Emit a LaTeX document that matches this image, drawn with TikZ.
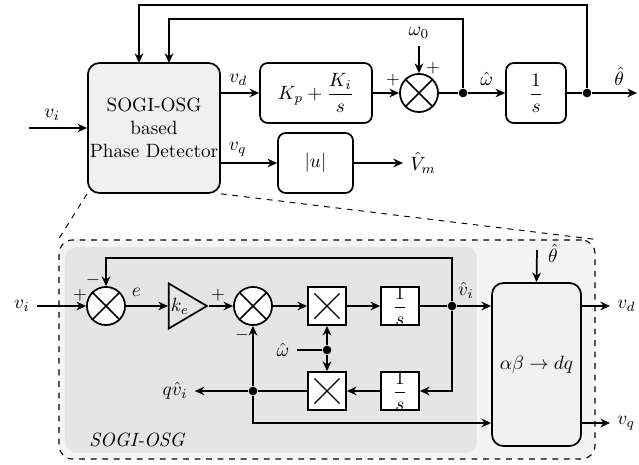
\documentclass[tikz,border=0pt]{standalone}
\usepackage{amsmath,amssymb}
\usetikzlibrary{arrows.meta,positioning,calc,shapes.geometric}

\begin{document}
\begin{tikzpicture}[x=0.52pt,y=-0.52pt,>={Stealth[length=5pt,width=4.5pt]},line width=0.9pt,
  blk/.style={draw,rounded corners=4pt,fill=gray!12,inner sep=1pt},
  sq/.style={draw,fill=white,minimum size=19.8pt,inner sep=0pt},
  sm/.style={circle,draw,fill=white,minimum size=19.8pt,inner sep=0pt,
    path picture={\draw (path picture bounding box.north west)--(path picture bounding box.south east)
      (path picture bounding box.north east)--(path picture bounding box.south west);}},
  mul/.style={sq,path picture={\draw[line width=0.6pt]
      ($(path picture bounding box.north west)!0.17!(path picture bounding box.south east)$)--($(path picture bounding box.north west)!0.83!(path picture bounding box.south east)$)
      ($(path picture bounding box.north east)!0.17!(path picture bounding box.south west)$)--($(path picture bounding box.north east)!0.83!(path picture bounding box.south west)$);}},
  dot/.style={circle,fill,inner sep=0pt,minimum size=4.5pt},
  sgn/.style={font=\small,inner sep=0pt}]
\useasboundingbox (0,0) rectangle (639,464);
% upper loop
\node[blk,rounded corners=6pt,minimum width=68.6pt,minimum height=67.6pt,align=center] (pd) at (154,128) {SOGI-OSG\\based\\Phase Detector};
\node[blk,fill=none,minimum width=58.2pt,minimum height=31.2pt] (kp) at (316,93) {$K_p+\dfrac{K_i}{s}$};
\node[blk,fill=none,minimum width=39pt,minimum height=31.2pt] (abs) at (315.5,163) {$|u|$};
\node[sm] (sum) at (419,93) {};
\node[blk,fill=none,minimum width=31.2pt,minimum height=31.2pt] (int) at (536,93) {$\dfrac{1}{s}$};
\node[dot] (d1) at (463,93) {};
\node[dot] (d2) at (587,93) {};
\node (w0) at (419,33) {$\omega_0$};
\node[anchor=west] (vm) at (403,163) {$\hat{V}_m$};
\coordinate (vin) at (29,128);
\coordinate (th) at (637,93);
\draw[->] (vin) -- (pd.west |- vin) node[pos=0.4,above] {$v_i$};
\draw[->] (pd.east |- kp) -- (kp) node[pos=0.45,above] {$v_d$};
\draw[->] (pd.east |- abs) -- (abs) node[pos=0.3,above] {$v_q$};
\draw[->] (abs) -- (vm);
\draw[->] (kp) -- (sum);
\draw[->] (w0) -- (sum);
\node[sgn] at (393,80) {$+$};
\node[sgn] at (433,68) {$+$};
\draw (sum) -- (d1);
\draw[->] (d1) -- (int) node[midway,above] {$\hat{\omega}$};
\draw (int) -- (d2);
\draw[->] (d2) -- (th) node[pos=0.6,above] {$\hat{\theta}$};
\draw[->] (d1) -- (d1 |- 0,19) -- (169,19) -- (169,63);
\draw[->] (d2) -- (d2 |- 0,5) -- (139,5) -- (139,63);
% SOGI-OSG detail
\node[draw,dashed,line width=0.6pt,rounded corners=7pt,fill=gray!9,minimum width=278.7pt,minimum height=113.9pt] (zm) at (327,349.5) {};
\node[fill=gray!20,rounded corners=6pt,minimum width=214.2pt,minimum height=107.1pt] (sg) at (271,350) {};
\draw[dashed,line width=0.5pt] (pd.south west) -- (zm.north west);
\draw[dashed,line width=0.5pt] (pd.south east) -- (zm.north east);
\node[font=\itshape] at (137,440) {SOGI-OSG};
\node (vi) at (22,306) {$v_i$};
\node[sm] (s1) at (106,306) {};
\node[draw,isosceles triangle,isosceles triangle stretches,minimum width=23.4pt,minimum height=19.8pt,inner sep=0pt] (ke) at (180,306) {$k_e$};
\node[sm] (s2) at (253,306) {};
\node[mul] (m1) at (327,306) {};
\node[mul] (m2) at (327,391) {};
\node[sq] (i1) at (400,306) {$\dfrac{1}{s}$};
\node[sq] (i2) at (400,391) {$\dfrac{1}{s}$};
\node[dot] (dv) at (452,306) {};
\node[dot] (dq) at (253,391) {};
\node[dot] (dw) at (327,350) {};
\node (wh) at (283,350) {$\hat{\omega}$};
\node (qv) at (175,391) {$q\hat{v}_i$};
\node[blk,rounded corners=6pt,minimum width=46.3pt,minimum height=84.8pt] (adq) at (536.5,364.5) {$\alpha\beta\rightarrow dq$};
\node (thl) at (553,253) {$\hat{\theta}$};
\coordinate (tht) at (537,250);
\node[anchor=west] (vdo) at (610,306) {$v_d$};
\node[anchor=west] (vqo) at (610,423) {$v_q$};
\draw[->] (vi) -- (s1);
\draw[->] (s1) -- (ke) node[pos=0.25,above=1pt] {$e$};
\draw[->] (ke) -- (s2);
\draw[->] (s2) -- (m1);
\draw[->] (m1) -- (i1);
\draw (i1) -- (dv);
\draw[->] (dv) -- (adq.west |- dv);
\node at (466,290) {$\hat{v}_i$};
\draw[->] (dv) -- (dv |- 0,258) -| (s1);
\draw[->] (dv) |- (i2);
\draw[->] (i2) -- (m2);
\draw (m2) -- (dq);
\draw[->] (dq) -- (qv);
\draw[->] (dq) -- (s2);
\draw[->] (dq) |- (adq.west |- 0,423);
\draw (wh) -- (dw);
\draw[->] (dw) -- (m1);
\draw[->] (dw) -- (m2);
\draw[->] (tht) -- (adq.north);
\draw[->] (adq.east |- vdo) -- (vdo);
\draw[->] (adq.east |- vqo) -- (vqo);
\node[sgn] at (80,295) {$+$};
\node[sgn] at (93,280) {$-$};
\node[sgn] at (218,295) {$+$};
\node[sgn] at (242,335) {$-$};
\end{tikzpicture}
\end{document}
